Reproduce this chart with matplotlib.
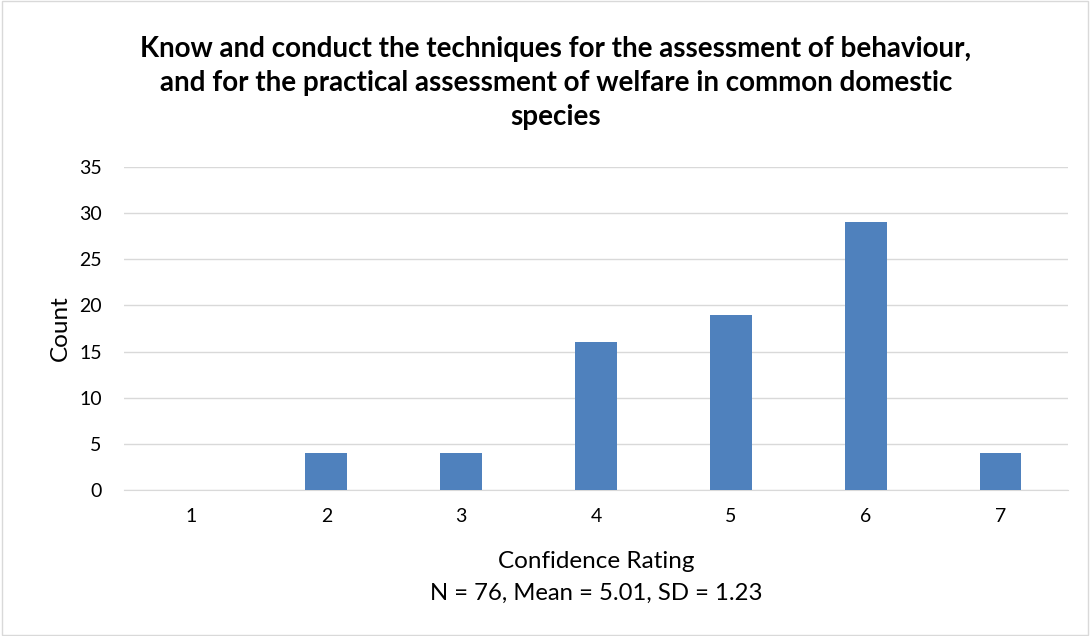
import matplotlib.pyplot as plt
from matplotlib.patches import Rectangle

ratings = ['1', '2', '3', '4', '5', '6', '7']
counts = [0, 4, 4, 16, 19, 29, 4]
y_ticks = [0, 5, 10, 15, 20, 25, 30, 35]

title = ('Know and conduct the techniques for the assessment of behaviour,\n'
         'and for the practical assessment of welfare in common domestic\n'
         'species')
stats_text = 'N = 76, Mean = 5.01, SD = 1.23'

plt.rcParams['font.family'] = ['Lato', 'DejaVu Sans']

fig = plt.figure(figsize=(10.9, 6.36), dpi=100)
ax = fig.add_axes([124 / 1090, 1 - 490 / 636, 944 / 1090, 323 / 636])

x = range(len(ratings))
ax.bar(x, counts, width=0.31, color='#4f81bd', zorder=3)

ax.set_xlim(-0.5, len(ratings) - 0.5)
ax.set_ylim(0, 35)
ax.set_yticks(y_ticks)
ax.set_xticks(list(x))
ax.set_xticklabels(ratings)
ax.grid(axis='y', color='#d9d9d9', linewidth=1, zorder=0)
for side in ['top', 'right', 'left']:
    ax.spines[side].set_visible(False)
ax.spines['bottom'].set_color('#d9d9d9')
ax.tick_params(axis='both', length=0, labelsize=14, colors='#000000')
ax.tick_params(axis='x', pad=13)
ax.tick_params(axis='y', pad=16)

ax.set_ylabel('Count', fontsize=17.5, labelpad=6)
cx = ax.get_position().x0 + ax.get_position().width / 2
fig.text(cx, 1 - 562 / 636, 'Confidence Rating', ha='center', va='center', fontsize=17.5)
fig.text(cx, 1 - 593 / 636, stats_text, ha='center', va='center', fontsize=17.2)

fig.text(556 / 1090, 1 - 83 / 636, title, ha='center', va='center',
         fontsize=20, fontweight='bold', linespacing=1.36)

fig.patches.append(Rectangle((0.002, 0.002), 0.996, 0.996, transform=fig.transFigure,
                             fill=False, edgecolor='#d9d9d9', linewidth=1))

fig.savefig('out.png', dpi=100)
